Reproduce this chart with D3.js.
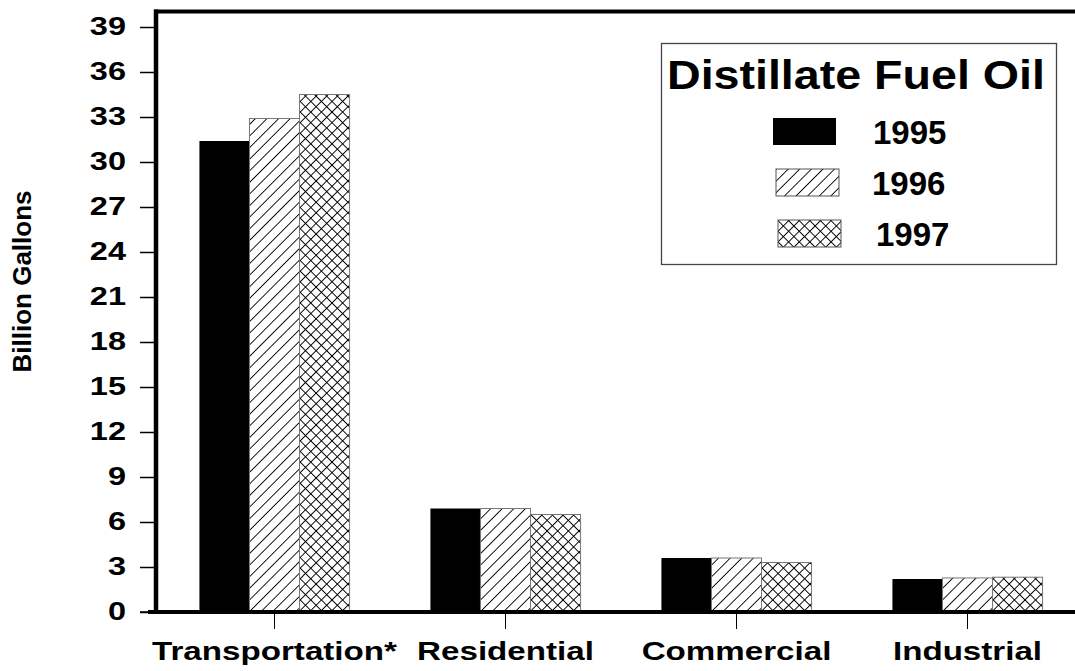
<!DOCTYPE html>
<html>
<head>
<meta charset="utf-8">
<script src="https://cdn.jsdelivr.net/npm/d3@7/dist/d3.min.js"></script>
<style>
  html, body { margin: 0; padding: 0; background: #fff; }
  svg { display: block; }
  text { font-family: "Liberation Sans", Arial, Helvetica, sans-serif; font-weight: bold; fill: #000; }
</style>
</head>
<body>
<svg id="chart" width="1075" height="671"></svg>
<script>
// ---- data ----
const categories = ["Transportation*", "Residential", "Commercial", "Industrial"];
const years = ["1995", "1996", "1997"];
const values1995 = [31.4, 6.9, 3.6, 2.2];
const values1996 = [32.9, 6.9, 3.6, 2.27];
const values1997 = [34.5, 6.5, 3.3, 2.32];
const yTicks = [0, 3, 6, 9, 12, 15, 18, 21, 24, 27, 30, 33, 36, 39];
const yTitle = "Billion Gallons";
const legendTitle = "Distillate Fuel Oil";

const series = [values1995, values1996, values1997];
const fills = ["#000", "url(#hatch)", "url(#cross)"];

const svg = d3.select("#chart");

// patterns
const defs = svg.append("defs");
const hw = 8.2;
const hatch = defs.append("pattern").attr("id", "hatch")
  .attr("patternUnits", "userSpaceOnUse").attr("width", hw).attr("height", hw)
  .attr("patternTransform", "rotate(45)");
hatch.append("rect").attr("width", hw).attr("height", hw).attr("fill", "#fff");
hatch.append("line").attr("x1", 0).attr("y1", 0).attr("x2", 0).attr("y2", hw)
  .attr("stroke", "#000").attr("stroke-width", 1.8);

const cw = 7.5;
const cross = defs.append("pattern").attr("id", "cross")
  .attr("patternUnits", "userSpaceOnUse").attr("width", cw).attr("height", cw)
  .attr("patternTransform", "rotate(45)");
cross.append("rect").attr("width", cw).attr("height", cw).attr("fill", "#fff");
cross.append("line").attr("x1", 0).attr("y1", 0).attr("x2", 0).attr("y2", cw)
  .attr("stroke", "#000").attr("stroke-width", 1.9);
cross.append("line").attr("x1", 0).attr("y1", 0).attr("x2", cw).attr("y2", 0)
  .attr("stroke", "#000").attr("stroke-width", 1.9);

// scales
const x0 = d3.scaleBand().domain(categories).range([159, 1083])
  .paddingInner(0.35).paddingOuter(0.175);
const x1 = d3.scaleBand().domain(years).range([0, x0.bandwidth()]);
const y = d3.scaleLinear().domain([0, 39]).range([612, 27]);

// bars
const groups = svg.append("g").selectAll("g").data(categories).join("g")
  .attr("transform", d => `translate(${x0(d)},0)`);
groups.selectAll("rect")
  .data((c, i) => years.map((yr, k) => ({ yr, k, v: series[k][i] })))
  .join("rect")
  .attr("x", d => x1(d.yr))
  .attr("y", d => y(d.v))
  .attr("width", x1.bandwidth())
  .attr("height", d => y(0) - y(d.v))
  .attr("fill", d => fills[d.k])
  .attr("stroke", d => d.k === 0 ? "none" : "#777")
  .attr("stroke-width", 1);

// y axis ticks + labels
const yAxis = d3.axisLeft(y).tickValues(yTicks).tickSize(14).tickPadding(0);
const gy = svg.append("g").attr("transform", "translate(154,0)").call(yAxis);
gy.select(".domain").remove();
gy.selectAll(".tick line").attr("stroke", "#000").attr("stroke-width", 1.5);
gy.selectAll(".tick text")
  .attr("x", null).attr("dy", "0.34em")
  .attr("transform", "translate(-28,-1) scale(1.3,1)")
  .attr("font-size", 25)
  .style("font-family", "'Liberation Sans', Arial, sans-serif")
  .style("font-weight", "bold");

// x axis ticks + labels
const xAxis = d3.axisBottom(x0).tickSize(16).tickPadding(0);
const gx = svg.append("g").attr("transform", "translate(0,613)").call(xAxis);
gx.select(".domain").remove();
gx.selectAll(".tick line").attr("stroke", "#000").attr("stroke-width", 1);
gx.selectAll(".tick text")
  .attr("y", null).attr("dy", null)
  .attr("transform", "translate(0,47) scale(1.3,1)")
  .attr("font-size", 25.5)
  .style("font-family", "'Liberation Sans', Arial, sans-serif")
  .style("font-weight", "bold");

// frame lines (axis lines)
svg.append("line").attr("x1", 156).attr("x2", 156)
  .attr("y1", 9.5).attr("y2", y(0) + 2).attr("stroke", "#000").attr("stroke-width", 4.5);
svg.append("line").attr("x1", 154).attr("x2", 1075)
  .attr("y1", 11.5).attr("y2", 11.5).attr("stroke", "#000").attr("stroke-width", 4);
svg.append("line").attr("x1", 148).attr("x2", 1075)
  .attr("y1", y(0)).attr("y2", y(0)).attr("stroke", "#000").attr("stroke-width", 4);
svg.append("line").attr("x1", 140).attr("x2", 154)
  .attr("y1", y(0)).attr("y2", y(0)).attr("stroke", "#000").attr("stroke-width", 1.5);

// y title
svg.append("text")
  .attr("transform", `translate(31,${(y(0) + y(39)) / 2 - 38}) rotate(-90)`)
  .attr("text-anchor", "middle")
  .attr("font-size", 26)
  .text(yTitle);

// legend
const lg = svg.append("g");
lg.append("rect").attr("x", 661.5).attr("y", 43.5).attr("width", 395).attr("height", 221)
  .attr("fill", "#fff").attr("stroke", "#444").attr("stroke-width", 1.3);
lg.append("text").attr("x", 667).attr("y", 89)
  .attr("font-size", 40)
  .attr("transform", "translate(667,0) scale(1.165,1) translate(-667,0)")
  .text(legendTitle);
const legendRows = lg.selectAll("g.row").data(years).join("g").attr("class", "row")
  .attr("transform", (d, i) => `translate(${[773, 776, 778][i]},${[118, 169, 220][i]})`);
legendRows.append("rect")
  .attr("width", 63).attr("height", 27)
  .attr("fill", (d, i) => fills[i])
  .attr("stroke", (d, i) => i === 0 ? "none" : "#555").attr("stroke-width", 1);
legendRows.append("text")
  .attr("x", (d, i) => [100, 96, 98][i]).attr("y", 26)
  .attr("font-size", 33)
  .text(d => d);
</script>
</body>
</html>
